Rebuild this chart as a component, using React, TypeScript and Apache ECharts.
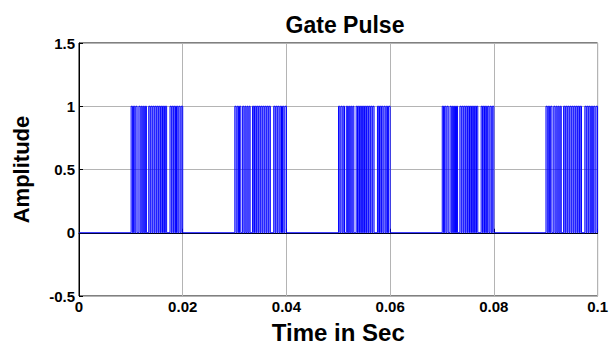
import React, { useEffect, useRef } from "react";
import * as echarts from "echarts";

// burst start times (s)
const burstStarts = [0.01, 0.03, 0.05, 0.07, 0.09];
// pulse on/off offsets within a burst (ms)
const pulseOn = [0.05, 0.5, 0.95, 1.55, 2.0, 2.4, 2.8, 3.45, 3.85, 4.25, 4.65, 5.05, 5.45, 5.85, 6.25, 6.65, 7.55, 7.95, 8.35, 8.8, 9.25, 9.7];
const pulseOff = [0.3, 0.75, 1.2, 1.8, 2.2, 2.6, 3.0, 3.7, 4.1, 4.5, 4.9, 5.3, 5.7, 6.1, 6.5, 6.9, 7.8, 8.2, 8.6, 9.05, 9.5, 10.0];
const xTicks = ["0", "0.02", "0.04", "0.06", "0.08", "0.1"];
const yTicks = ["-0.5", "0", "0.5", "1", "1.5"];

function buildData(): [number, number][] {
  const pts: [number, number][] = [[0, 0]];
  burstStarts.forEach((b) => {
    pulseOn.forEach((on, i) => {
      const s = b + on / 1000;
      const e = b + pulseOff[i] / 1000;
      pts.push([s, 0], [s, 1], [e, 1], [e, 0]);
    });
  });
  pts.push([0.1, 0]);
  return pts;
}

export default function App() {
  const ref = useRef<HTMLDivElement>(null);
  useEffect(() => {
    if (!ref.current) return;
    const chart = echarts.init(ref.current, undefined, { renderer: "svg" });
    const font = "'Liberation Sans', Arial, sans-serif";
    chart.setOption({
      animation: false,
      backgroundColor: "#ffffff",
      title: {
        text: "Gate Pulse",
        left: 340,
        top: 8,
        textAlign: "center",
        textStyle: { fontFamily: font, fontWeight: "bold", fontSize: 23, color: "#000" },
      },
      grid: {
        left: 79,
        right: 10,
        top: 43,
        bottom: 49,
        show: true,
        borderColor: "#000",
        borderWidth: 1,
        backgroundColor: "#fff",
      },
      xAxis: {
        type: "value",
        min: 0,
        max: 0.1,
        interval: 0.02,
        name: "Time in Sec",
        nameLocation: "middle",
        nameGap: 24,
        nameTextStyle: { fontFamily: font, fontWeight: "bold", fontSize: 24, color: "#000" },
        axisLine: { show: true, lineStyle: { color: "#000", width: 1 } },
        axisTick: { show: true, inside: true, length: 4, lineStyle: { color: "#000" } },
        axisLabel: {
          fontFamily: font,
          fontWeight: "bold",
          fontSize: 15,
          color: "#000",
          margin: 3,
          formatter: (v: number) => xTicks[Math.round(v / 0.02)] ?? "",
        },
        splitLine: { show: true, lineStyle: { color: "#b4b4b4", width: 1 } },
      },
      yAxis: {
        type: "value",
        min: -0.5,
        max: 1.5,
        interval: 0.5,
        name: "Amplitude",
        nameLocation: "middle",
        nameGap: 47,
        nameTextStyle: { fontFamily: font, fontWeight: "bold", fontSize: 22, color: "#000" },
        axisLine: { show: true, lineStyle: { color: "#000", width: 1 } },
        axisTick: { show: true, inside: true, length: 4, lineStyle: { color: "#000" } },
        axisLabel: {
          fontFamily: font,
          fontWeight: "bold",
          fontSize: 15,
          color: "#000",
          margin: 4,
          formatter: (v: number) => yTicks[Math.round((v + 0.5) / 0.5)] ?? "",
        },
        splitLine: { show: true, lineStyle: { color: "#b4b4b4", width: 1 } },
      },
      series: [
        {
          type: "line",
          data: buildData(),
          showSymbol: false,
          symbol: "none",
          lineStyle: { color: "#0000ff", width: 1 },
          z: 3,
        },
      ],
    });
    return () => chart.dispose();
  }, []);
  return <div ref={ref} style={{ width: 611, height: 349, position: "absolute", left: 0, top: 0 }} />;
}
